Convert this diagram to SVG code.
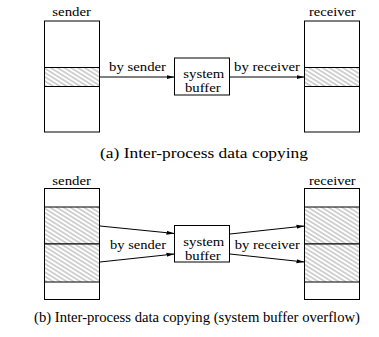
<svg xmlns="http://www.w3.org/2000/svg" width="379" height="337" viewBox="0 0 379 337" font-family="'Liberation Serif', 'Times New Roman', serif">
<style>
text{font-family:'Liberation Serif','Times New Roman',Times,serif;fill:#000}
.lbl{font-size:12px}
.cap{font-size:14px}
.box{fill:#fff;stroke:#000;stroke-width:1}
.hatch{fill:url(#hatch);stroke:#000;stroke-width:1}
.conn{stroke:#000;stroke-width:1;fill:none;marker-end:url(#arr)}
</style>
<defs>
<pattern id="hatch" patternUnits="userSpaceOnUse" width="8" height="3.6" patternTransform="rotate(32)">
<rect width="8" height="3.6" fill="#fff"/>
<line x1="0" y1="1.8" x2="8" y2="1.8" stroke="#555" stroke-width="0.55"/>
</pattern>
<marker id="arr" markerWidth="8" markerHeight="6" refX="8" refY="3" orient="auto" markerUnits="userSpaceOnUse">
<path d="M0,1 L8,3 L0,5 Z" fill="#000"/>
</marker>
</defs>

<!-- (a) -->
<g id="sender-a">
<text class="lbl" x="52.3" y="15.7" textLength="38.7" lengthAdjust="spacingAndGlyphs">sender</text>
<rect class="box" x="44.5" y="21" width="55" height="111"/>
<rect class="hatch" x="44.5" y="67.5" width="55" height="19"/>
</g>
<g id="buffer-a">
<rect class="box" x="174.5" y="58" width="55" height="37"/>
<text class="lbl" x="183.3" y="78.3" textLength="41" lengthAdjust="spacingAndGlyphs">system</text>
<text class="lbl" x="185" y="91.7" textLength="35.7" lengthAdjust="spacingAndGlyphs">buffer</text>
</g>
<g id="receiver-a">
<text class="lbl" x="309" y="15.7" textLength="46.7" lengthAdjust="spacingAndGlyphs">receiver</text>
<rect class="box" x="304.5" y="21" width="55" height="111"/>
<rect class="hatch" x="304.5" y="67.5" width="55" height="19"/>
</g>
<g id="connectors-a">
<line class="conn" x1="100" y1="77" x2="174.5" y2="77"/>
<line class="conn" x1="230" y1="77" x2="304.5" y2="77"/>
<text class="lbl" x="109" y="71" textLength="57" lengthAdjust="spacingAndGlyphs">by sender</text>
<text class="lbl" x="234" y="71" textLength="66" lengthAdjust="spacingAndGlyphs">by receiver</text>
</g>
<text class="cap" x="100" y="158" textLength="208" lengthAdjust="spacingAndGlyphs">(a) Inter-process data copying</text>

<!-- (b) -->
<g id="sender-b">
<text class="lbl" x="52.3" y="184.7" textLength="38.7" lengthAdjust="spacingAndGlyphs">sender</text>
<rect class="box" x="44.5" y="188.5" width="55" height="111"/>
<rect class="hatch" x="44.5" y="207" width="55" height="37"/>
<rect class="hatch" x="44.5" y="244" width="55" height="38"/>
</g>
<g id="buffer-b">
<rect class="box" x="174.5" y="225.5" width="55" height="36.5"/>
<text class="lbl" x="183.3" y="246.3" textLength="41" lengthAdjust="spacingAndGlyphs">system</text>
<text class="lbl" x="185" y="259.7" textLength="35.7" lengthAdjust="spacingAndGlyphs">buffer</text>
</g>
<g id="receiver-b">
<text class="lbl" x="309" y="184.7" textLength="46.7" lengthAdjust="spacingAndGlyphs">receiver</text>
<rect class="box" x="304.5" y="188.5" width="55" height="111"/>
<rect class="hatch" x="304.5" y="207" width="55" height="37"/>
<rect class="hatch" x="304.5" y="244" width="55" height="38"/>
</g>
<g id="connectors-b">
<line class="conn" x1="100" y1="226" x2="174.5" y2="233.5"/>
<line class="conn" x1="100" y1="262" x2="174.5" y2="254"/>
<line class="conn" x1="230" y1="234" x2="304.5" y2="226"/>
<line class="conn" x1="230" y1="254" x2="304.5" y2="262"/>
<text class="lbl" x="110" y="248.5" textLength="56" lengthAdjust="spacingAndGlyphs">by sender</text>
<text class="lbl" x="234.7" y="249" textLength="65.3" lengthAdjust="spacingAndGlyphs">by receiver</text>
</g>
<text class="cap" x="34" y="321.5" textLength="326" lengthAdjust="spacingAndGlyphs">(b) Inter-process data copying (system buffer overflow)</text>
</svg>
